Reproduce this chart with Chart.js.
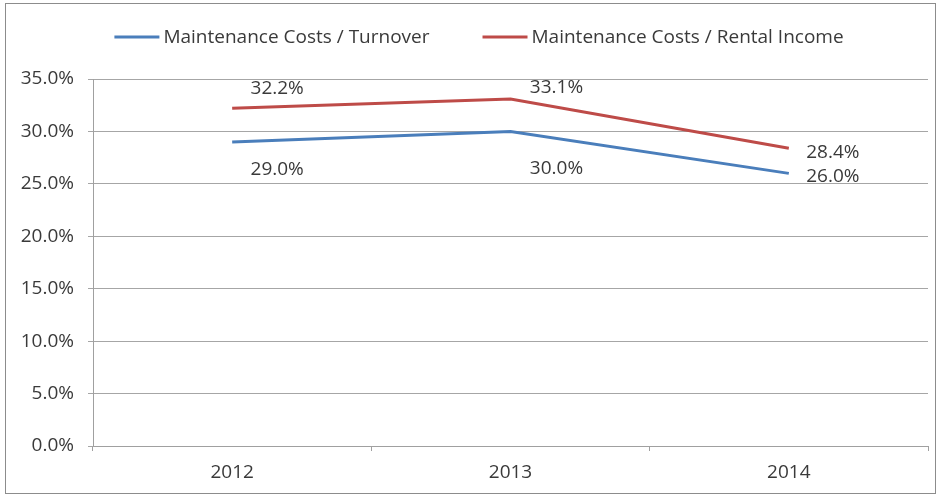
<!DOCTYPE html>
<html>
<head>
<meta charset="utf-8">
<script src="https://cdn.jsdelivr.net/npm/chart.js@4/dist/chart.umd.min.js"></script>
<style>
  html, body { margin: 0; padding: 0; background: #fff; }
  #wrap { position: relative; width: 939px; height: 497px; }
  #frame {
    position: absolute; left: 5px; top: 3px; width: 929px; height: 489px;
    border: 1px solid #8c8c8c; pointer-events: none;
  }
  canvas { position: absolute; left: 0; top: 0; }
</style>
</head>
<body>
<div id="wrap">
  <canvas id="ratio-chart" width="939" height="497"></canvas>
  <div id="frame"></div>
</div>
<script>
const years = ["2012", "2013", "2014"];
const turnoverRatio = [29.0, 30.0, 26.0];
const rentalIncomeRatio = [32.2, 33.1, 28.4];

const FONT = "'Open Sans'";
const FONT_SIZE = 19;
const TEXT_COLOR = "#3a3a3a";

// per-point label offsets from the point, one list per dataset
const labelOffsets = [
  [[45, 28], [46, 37], [44, 3]],
  [[45, -20], [46, -11], [44, 4]],
];

const pctLabels = {
  id: "pctLabels",
  afterDatasetsDraw(chart) {
    const ctx = chart.ctx;
    ctx.save();
    ctx.font = `${FONT_SIZE}px ${FONT}`;
    ctx.fillStyle = TEXT_COLOR;
    ctx.textAlign = "center";
    ctx.textBaseline = "middle";
    chart.data.datasets.forEach((ds, i) => {
      const meta = chart.getDatasetMeta(i);
      meta.data.forEach((pt, j) => {
        const off = labelOffsets[i][j];
        ctx.fillText(ds.data[j].toFixed(1) + "%", pt.x + off[0], pt.y + off[1]);
      });
    });
    ctx.restore();
  },
};

// simple line-swatch legend across the top
const lineLegend = {
  id: "lineLegend",
  afterDraw(chart) {
    const ctx = chart.ctx;
    ctx.save();
    ctx.font = `${FONT_SIZE}px ${FONT}`;
    ctx.textBaseline = "middle";
    const swatch = 45;
    const gap = 4;
    const itemGap = 53;
    const items = chart.data.datasets.map((ds) => ({
      ds,
      w: swatch + gap + ctx.measureText(ds.label).width,
    }));
    const total = items.reduce((s, it) => s + it.w, 0) + itemGap * (items.length - 1);
    let x = 479 - total / 2;
    const y = 37;
    items.forEach((it) => {
      ctx.strokeStyle = it.ds.borderColor;
      ctx.lineWidth = 3;
      ctx.beginPath();
      ctx.moveTo(x, y);
      ctx.lineTo(x + swatch, y);
      ctx.stroke();
      ctx.fillStyle = TEXT_COLOR;
      ctx.fillText(it.ds.label, x + swatch + gap, y + 1);
      x += it.w + itemGap;
    });
    ctx.restore();
  },
};

const ctx = document.getElementById("ratio-chart").getContext("2d");
const chart = new Chart(ctx, {
  type: "line",
  data: {
    labels: years,
    datasets: [
      {
        label: "Maintenance Costs / Turnover",
        data: turnoverRatio,
        borderColor: "#4a7ebb",
        borderWidth: 3,
        pointRadius: 0,
        tension: 0,
      },
      {
        label: "Maintenance Costs / Rental Income",
        data: rentalIncomeRatio,
        borderColor: "#be4b48",
        borderWidth: 3,
        pointRadius: 0,
        tension: 0,
      },
    ],
  },
  options: {
    responsive: false,
    animation: false,
    layout: { padding: { top: 79, right: 11, bottom: 0, left: 0 } },
    plugins: {
      legend: { display: false },
      tooltip: { enabled: false },
    },
    scales: {
      x: {
        offset: true,
        afterFit(scale) {
          scale.height = 51;
        },
        grid: {
          offset: true,
          drawOnChartArea: false,
          drawTicks: true,
          tickLength: 5,
          color: "#a0a0a0",
        },
        border: { display: true, color: "#a0a0a0" },
        ticks: {
          padding: 10,
          color: TEXT_COLOR,
          font: { family: FONT, size: FONT_SIZE },
        },
      },
      y: {
        min: 0,
        max: 35,
        afterFit(scale) {
          scale.width = 93;
        },
        grid: {
          color: "#a6a6a6",
          tickLength: 5,
        },
        border: { display: true, color: "#a0a0a0" },
        ticks: {
          stepSize: 5,
          padding: 14,
          color: TEXT_COLOR,
          font: { family: FONT, size: FONT_SIZE },
          callback: (v) => v.toFixed(1) + "%",
        },
      },
    },
  },
  plugins: [pctLabels, lineLegend],
});
</script>
</body>
</html>
